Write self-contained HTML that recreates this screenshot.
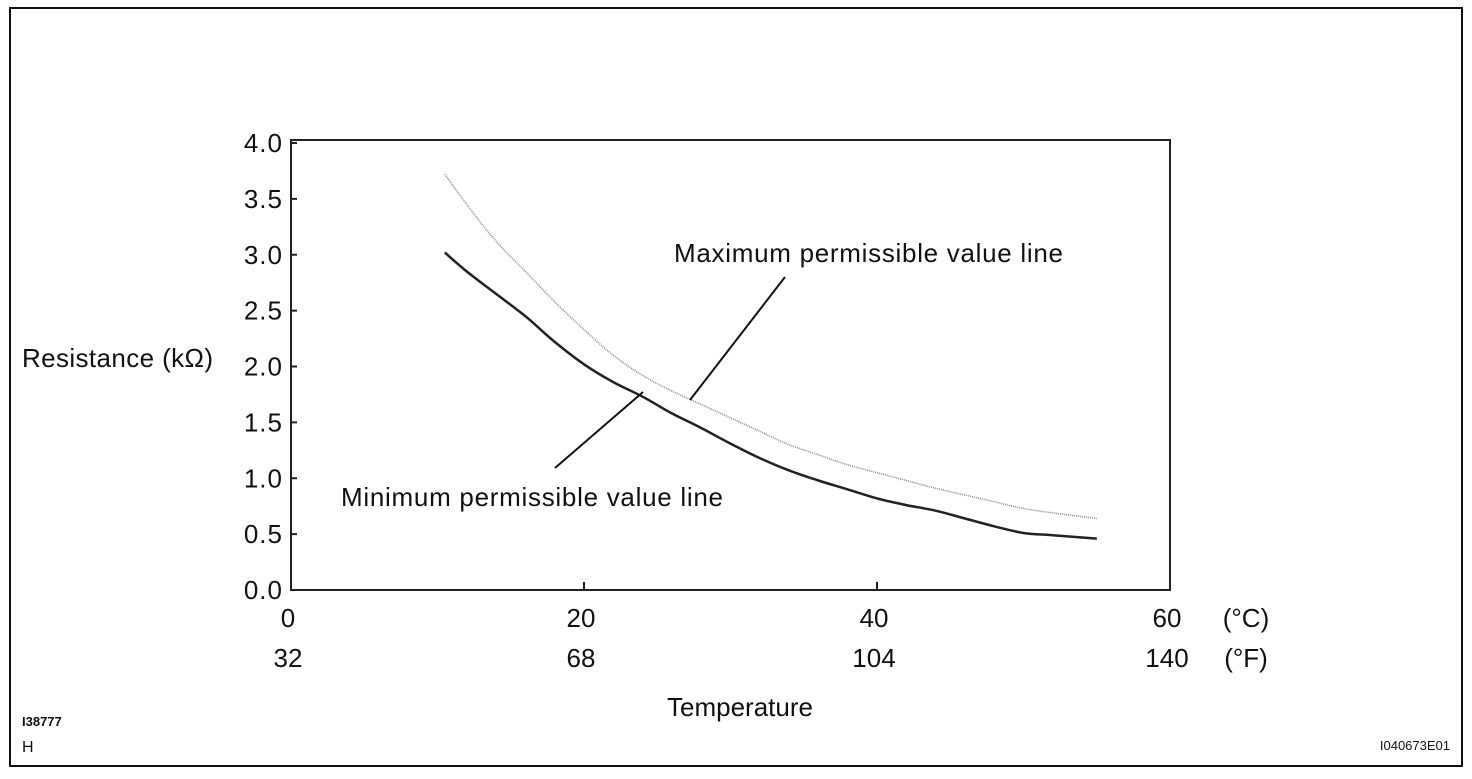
<!DOCTYPE html>
<html><head><meta charset="utf-8"><style>
body{margin:0;background:#fff}
svg text{font-family:"Liberation Sans",Arial,sans-serif;fill:#111}
</style></head><body>
<svg width="1472" height="774" viewBox="0 0 1472 774">
<rect x="10" y="8" width="1452" height="758" fill="#fff" stroke="#111" stroke-width="2"/>
<rect x="291" y="140" width="879" height="450" fill="none" stroke="#222" stroke-width="2"/>
<g id="yticks"></g>
<g id="xticks"></g>
<g id="series"></g>
<text x="22" y="367" font-size="26" textLength="191">Resistance (kΩ)</text>
<text x="740" y="716" font-size="26" text-anchor="middle">Temperature</text>
<text x="1246" y="627" font-size="26" text-anchor="middle">(°C)</text>
<text x="1246" y="667" font-size="26" text-anchor="middle">(°F)</text>
<text x="674" y="262" font-size="26" textLength="389">Maximum permissible value line</text>
<text x="341" y="506" font-size="26" textLength="382">Minimum permissible value line</text>
<line x1="785" y1="277" x2="690" y2="400" stroke="#111" stroke-width="2"/>
<line x1="555" y1="468" x2="643" y2="392" stroke="#111" stroke-width="2"/>
<text x="22" y="726" font-size="13" font-weight="bold">I38777</text>
<text x="22" y="752" font-size="16">H</text>
<text x="1450" y="750" font-size="13" text-anchor="end">I040673E01</text>
</svg>
<script>
const yTicks=[0,0.5,1,1.5,2,2.5,3,3.5,4];
const yTickLabels=["0.0","0.5","1.0","1.5","2.0","2.5","3.0","3.5","4.0"];
const xTicksC=[0,20,40,60];
const xLabelsC=["0","20","40","60"];
const xLabelsF=["32","68","104","140"];
const temps=[10.5,12,14,16,18,20,22,24,26,28,30,32,34,36,38,40,42,44,46,48,50,52,55];
const maxVals=[3.72,3.45,3.12,2.85,2.58,2.33,2.10,1.92,1.78,1.66,1.54,1.42,1.30,1.21,1.12,1.05,0.98,0.91,0.85,0.79,0.73,0.69,0.64];
const minVals=[3.02,2.85,2.65,2.45,2.22,2.02,1.86,1.73,1.58,1.45,1.31,1.18,1.07,0.98,0.90,0.82,0.76,0.71,0.64,0.57,0.51,0.49,0.46];
const NS="http://www.w3.org/2000/svg";
function X(c){return 291+c*(879/60);}
function Y(v){return 590-v*(447/4);}
function mk(t,a,p){const e=document.createElementNS(NS,t);for(const k in a)e.setAttribute(k,a[k]);p.appendChild(e);return e;}
const yg=document.getElementById('yticks');
yTicks.forEach((v,i)=>{
 const l=mk('line',{x1:291,x2:297,y1:Y(v),y2:Y(v),stroke:'#222','stroke-width':2},yg);
 
 
 const t=mk('text',{x:283,y:Y(v)+9,'font-size':26,'text-anchor':'end','letter-spacing':1},yg);
 t.textContent=yTickLabels[i];
 
 
});
const xg=document.getElementById('xticks');
xTicksC.forEach((c,i)=>{
 if(c>0&&c<60){const l=mk('line',{x1:X(c),x2:X(c),y1:590,y2:582,stroke:'#222','stroke-width':2},xg);
 
 }
 const t=mk('text',{x:X(c)-3,y:627,'font-size':26,'text-anchor':'middle'},xg);
 t.textContent=xLabelsC[i];
 
 
 const f=mk('text',{x:X(c)-3,y:667,'font-size':26,'text-anchor':'middle'},xg);
 f.textContent=xLabelsF[i];
 
 
});
const sg=document.getElementById('series');
function path(vals){
 const p=temps.map((c,i)=>[X(c),Y(vals[i])]);
 let d='M'+p[0][0].toFixed(1)+' '+p[0][1].toFixed(1);
 for(let i=0;i<p.length-1;i++){
  const p0=p[i-1]||p[i],p1=p[i],p2=p[i+1],p3=p[i+2]||p2;
  const c1=[p1[0]+(p2[0]-p0[0])/6,p1[1]+(p2[1]-p0[1])/6];
  const c2=[p2[0]-(p3[0]-p1[0])/6,p2[1]-(p3[1]-p1[1])/6];
  d+=' C'+c1.map(n=>n.toFixed(1)).join(' ')+' '+c2.map(n=>n.toFixed(1)).join(' ')+' '+p2[0].toFixed(1)+' '+p2[1].toFixed(1);
 }
 return d;
}
const pm=mk('path',{d:path(maxVals),fill:'none',stroke:'#888','stroke-width':1.5,'stroke-dasharray':'1 1'},sg);


const pn=mk('path',{d:path(minVals),fill:'none',stroke:'#222','stroke-width':2.5},sg);


</script>
</body></html>
